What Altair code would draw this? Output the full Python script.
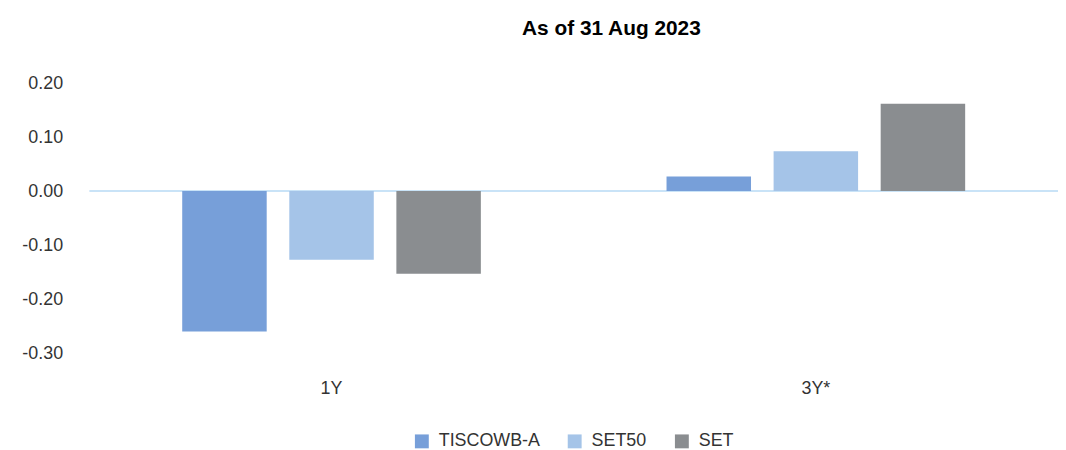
import altair as alt
import pandas as pd

periods = ["1Y", "3Y*"]
series = ["TISCOWB-A", "SET50", "SET"]
vals_1y = [-0.260, -0.127, -0.153]
vals_3y = [0.027, 0.074, 0.162]
colors = ["#779FD9", "#A5C4E8", "#8A8D90"]

rows = []
for s, v in zip(series, vals_1y):
    rows.append({"period": periods[0], "series": s, "value": v})
for s, v in zip(series, vals_3y):
    rows.append({"period": periods[1], "series": s, "value": v})
df = pd.DataFrame(rows)

FONT = "Liberation Sans"
W, H = 976, 272

bars = alt.Chart(df).mark_bar().encode(
    x=alt.X("period:N", sort=periods, title=None,
            scale=alt.Scale(paddingInner=0, paddingOuter=0),
            axis=alt.Axis(labelAngle=0, domain=False, ticks=False, labelFontSize=18,
                          labelPadding=27, labelColor="#333333", labelFont=FONT)),
    xOffset=alt.XOffset("series:N", sort=series,
                        scale=alt.Scale(paddingInner=0.211, paddingOuter=0.867)),
    y=alt.Y("value:Q", title=None,
            scale=alt.Scale(domain=[-0.3, 0.2], nice=False),
            axis=alt.Axis(values=[-0.3, -0.2, -0.1, 0.0, 0.1, 0.2], grid=False, domain=False,
                          ticks=False, labelFontSize=18, labelPadding=27, labelColor="#333333",
                          labelFont=FONT,
                          labelExpr="replace(format(datum.value, '.2f'), '\u2212', '-')")),
    color=alt.Color("series:N", sort=series,
                    scale=alt.Scale(domain=series, range=colors),
                    legend=alt.Legend(title=None, orient="none", direction="horizontal",
                                      legendX=326, legendY=352, symbolType="square",
                                      symbolSize=196, symbolStrokeWidth=0,
                                      labelFontSize=18, labelFont=FONT, labelColor="#333333",
                                      columnPadding=26, symbolOffset=0, labelOffset=8)),
)

zero = alt.Chart(pd.DataFrame({"y": [0.0]})).mark_rule(color="#C9E3F7", strokeWidth=2).encode(
    y="y:Q", x=alt.value(0), x2=alt.value(W)
)

chart = alt.layer(zero, bars).properties(
    width=W, height=H,
    title=alt.TitleParams("As of 31 Aug 2023", fontSize=21, fontWeight="bold", font=FONT,
                          color="#000000", anchor="middle", dx=38, offset=35),
    autosize=alt.AutoSizeParams(type="none"),
    padding={"left": 82, "top": 74, "right": 0, "bottom": 96},
).configure_view(stroke=None)

chart.save("out.html", embed_options={"renderer": "svg", "actions": False})
